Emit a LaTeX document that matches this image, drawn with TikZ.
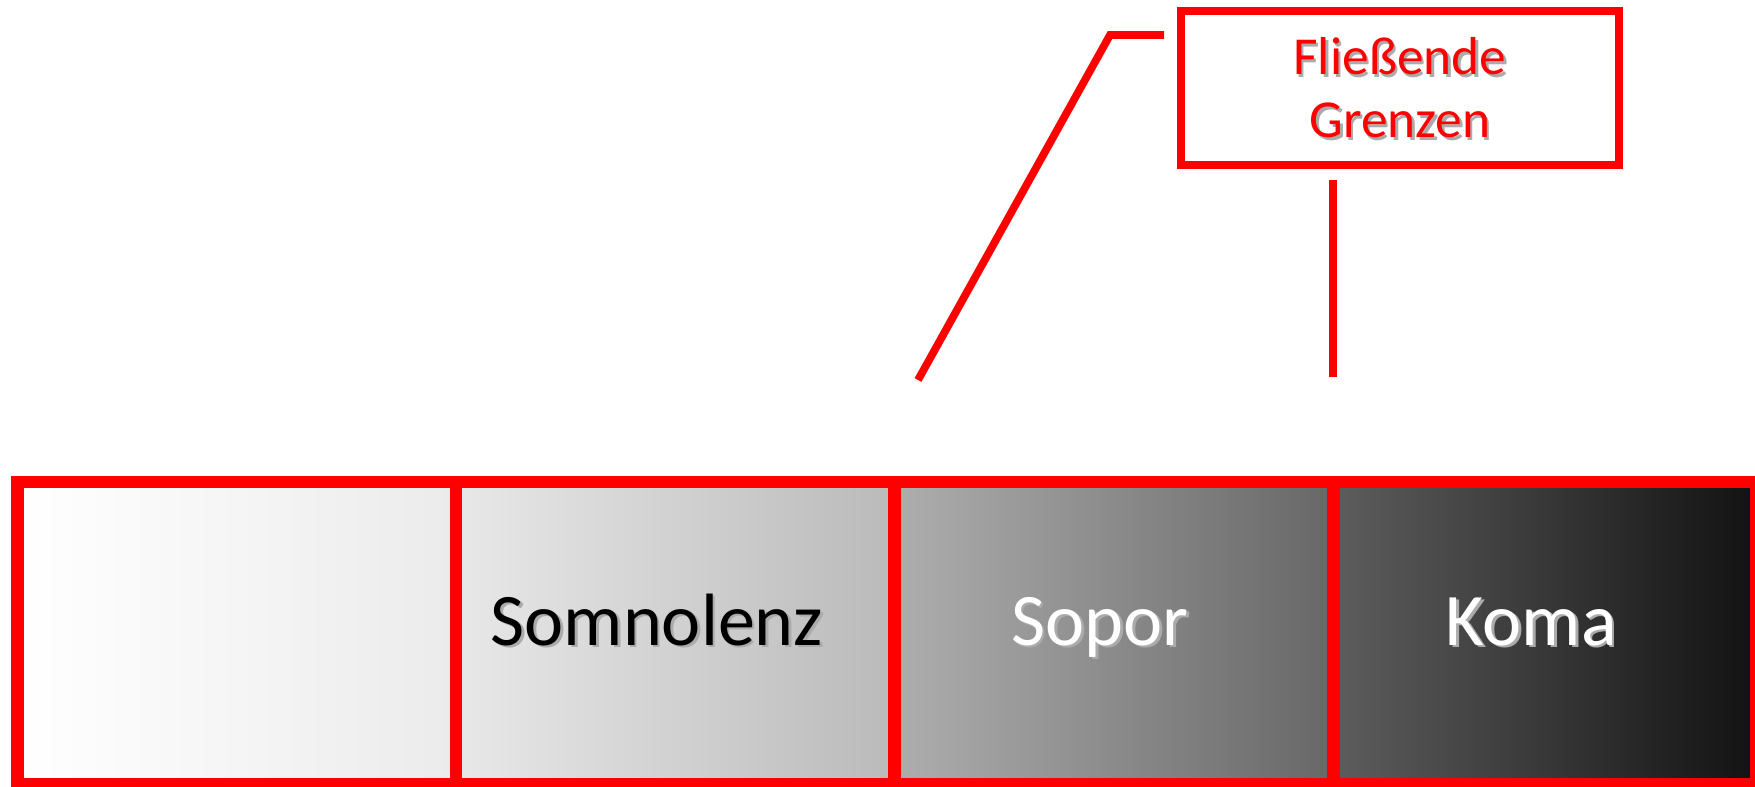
\documentclass[tikz,border=0pt]{standalone}
\usepackage{fontspec}
\setmainfont{Carlito}
\definecolor{rahmenrot}{HTML}{FF0000}
\definecolor{schatten}{HTML}{ABABAB}

\begin{document}
\begin{tikzpicture}[x=0.02cm, y=-0.02cm,
		rahmen/.style={draw=rahmenrot, line width=0.25cm},
		hinweis/.style={draw=rahmenrot, line width=0.155cm},
		stufe/.style={anchor=base, inner sep=0pt, font=\fontsize{42.2}{50}\selectfont},
		notiz/.style={align=center, inner sep=0pt, font=\fontsize{30.4}{35.7}\selectfont}]
	\useasboundingbox (0,0) rectangle (1755,787);

	% 1. Farbverlauf der vier Stufen (jede Zelle eigener Verlauf)
	\shade[left color=white, right color={rgb,255:red,235;green,235;blue,235}] (17.5,482) rectangle (456,784);
	\shade[left color={rgb,255:red,232;green,232;blue,232}, right color={rgb,255:red,186;green,186;blue,186}] (456,482) rectangle (894.5,784);
	\shade[left color={rgb,255:red,174;green,174;blue,174}, right color={rgb,255:red,103;green,103;blue,103}] (894.5,482) rectangle (1333.5,784);
	\shade[left color={rgb,255:red,93;green,93;blue,93}, right color={rgb,255:red,18;green,18;blue,18}] (1333.5,482) rectangle (1756,784);

	% 2. Roter Rahmen und Trennlinien
	\draw[rahmen] (17.5,482) rectangle (1756,784);
	\draw[rahmen] (456,482) -- (456,784);
	\draw[rahmen] (894.5,482) -- (894.5,784);
	\draw[rahmen] (1333.5,482) -- (1333.5,784);

	% 3. Beschriftung der Stufen (Schatten zuerst, dann Text)
	\node[stufe, text=schatten] (somno-s) at (659.5,647.5) {Somnolenz};
	\node[stufe] (somno) at (657,645) {Somnolenz};
	\node[stufe, text=schatten] (sopor-s) at (1102.5,647.5) {Sopor};
	\node[stufe, text=white] (sopor) at (1100,645) {Sopor};
	\node[stufe, text=schatten] (koma-s) at (1533.5,647.5) {Koma};
	\node[stufe, text=white] (koma) at (1531,645) {Koma};

	% 4. Hinweiskasten oben rechts
	\node[notiz, text=schatten] (grenz-s) at (1402.5,90.5) {Fließende\\Grenzen};
	\node[notiz, hinweis, text=rahmenrot, minimum width=8.75cm, minimum height=3.076cm] (grenz) at (1400,88) {Fließende\\Grenzen};

	% 5. Hinweislinien zu den Grenzen
	\coordinate (knick) at (1110,35);
	\coordinate (ende1) at (1164,35);
	\coordinate (fuss1) at (918,380);
	\coordinate (kopf2) at (1333,180);
	\coordinate (fuss2) at (1333,377);
	\draw[hinweis] (fuss1) -- (knick) -- (ende1);
	\draw[hinweis] (kopf2) -- (fuss2);
\end{tikzpicture}
\end{document}
